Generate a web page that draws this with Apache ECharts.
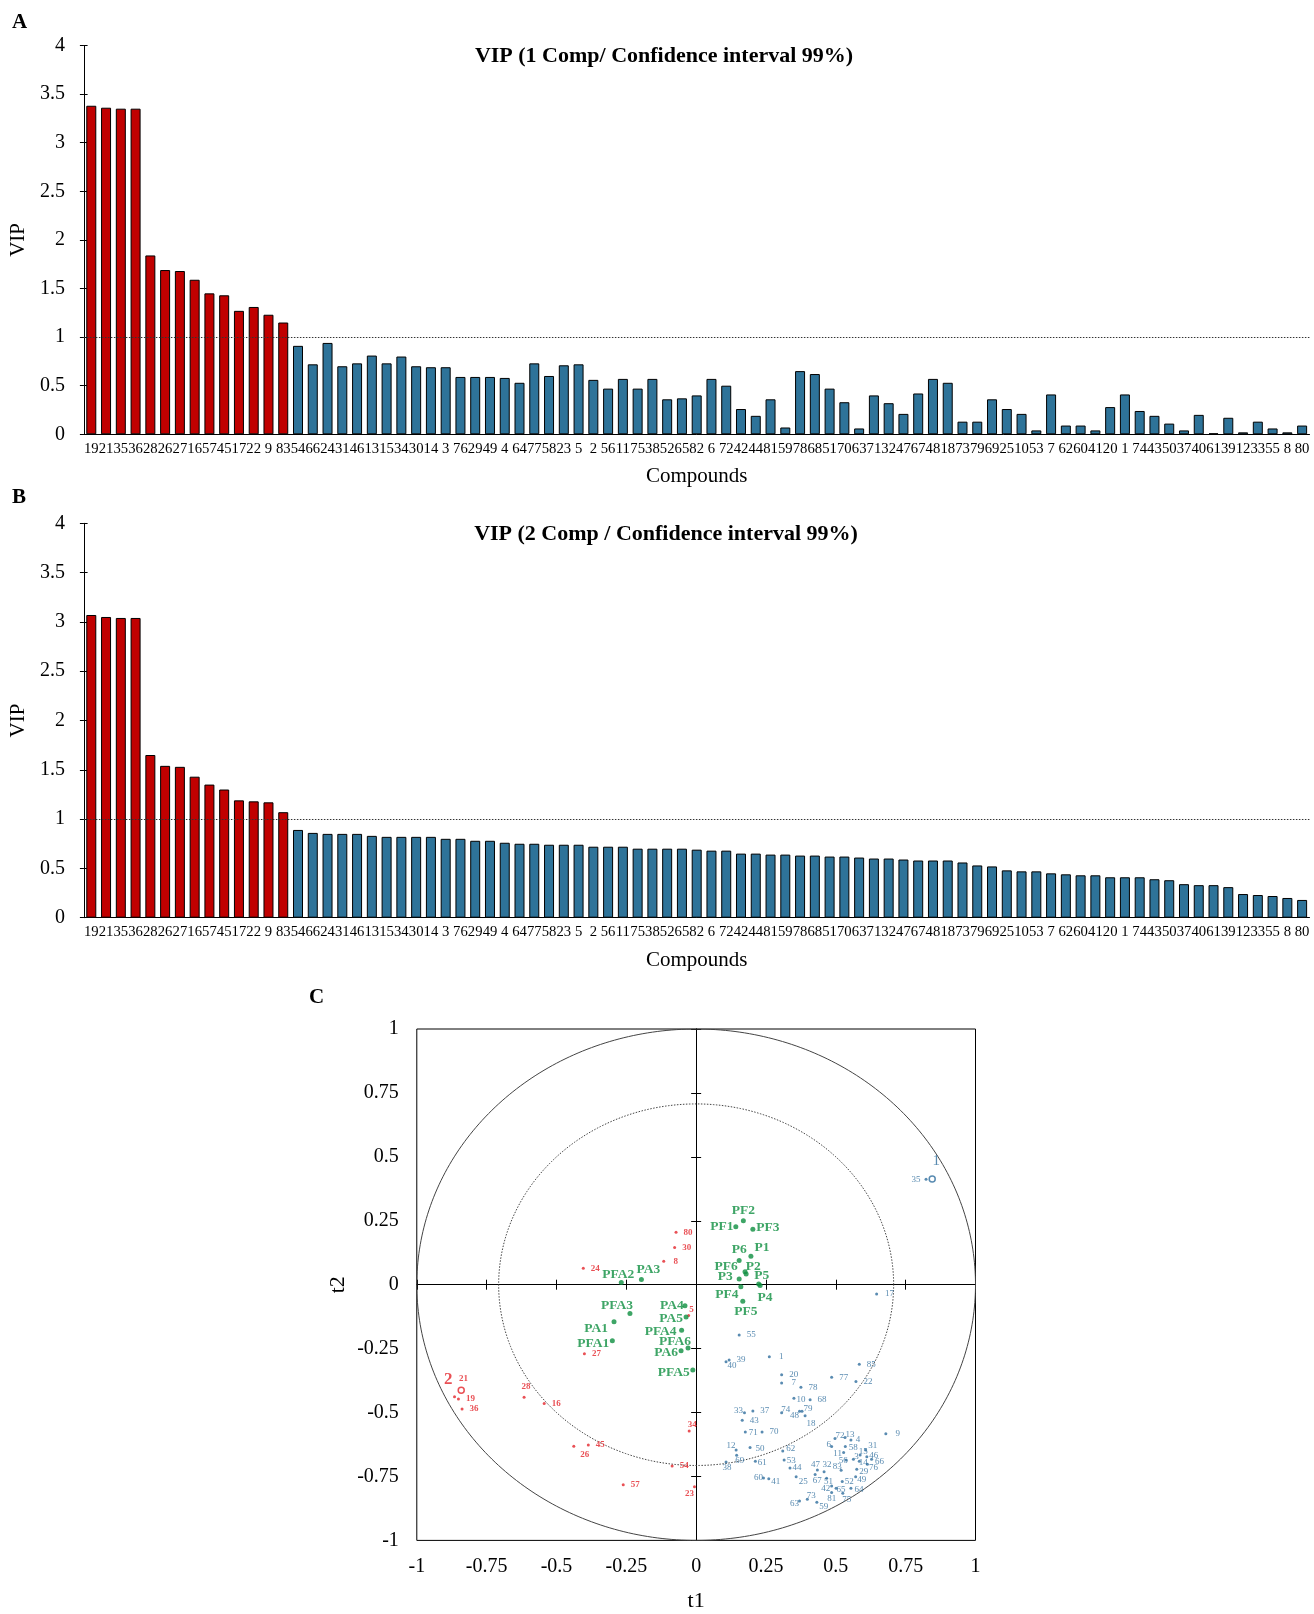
<!DOCTYPE html>
<html>
<head>
<meta charset="utf-8">
<script src="https://cdn.jsdelivr.net/npm/echarts@6/dist/echarts.min.js"></script>
<style>
html,body{margin:0;padding:0;background:#fff}
#chart{width:1314px;height:1614px}
</style>
</head>
<body>
<div id="chart"></div>
<script>
// Compound order on the VIP bar charts (same order for both components)
const compounds = ['19','21','35','36','28','26','27','16','57','45','17','22','9','83','54','66','24','31','46','13',
  '15','34','30','14','3','76','29','49','4','64','77','58','23','5','2','56','11','75','38','52',
  '65','82','6','72','42','44','81','59','78','68','51','70','63','71','32','47','67','48','18','73',
  '79','69','25','10','53','7','62','60','41','20','1','74','43','50','37','40','61','39','12','33',
  '55','8','80'];

// VIP scores, 1 component
const vipComp1 = [3.38,3.36,3.35,3.35,1.84,1.69,1.68,1.59,1.45,1.43,1.27,1.31,1.23,1.15,0.91,0.72,0.94,0.70,0.73,0.81,
  0.73,0.80,0.70,0.69,0.69,0.59,0.59,0.59,0.58,0.53,0.73,0.60,0.71,0.72,0.56,0.47,0.57,0.47,0.57,0.36,
  0.37,0.40,0.57,0.50,0.26,0.19,0.36,0.07,0.65,0.62,0.47,0.33,0.06,0.40,0.32,0.21,0.42,0.57,0.53,0.13,
  0.13,0.36,0.26,0.21,0.04,0.41,0.09,0.09,0.04,0.28,0.41,0.24,0.19,0.11,0.04,0.20,0.01,0.17,0.02,0.13,
  0.06,0.02,0.09];

// VIP scores, 2 components
const vipComp2 = [3.07,3.05,3.04,3.04,1.65,1.54,1.53,1.43,1.35,1.30,1.19,1.18,1.17,1.07,0.89,0.86,0.85,0.85,0.85,0.83,
  0.82,0.82,0.82,0.82,0.80,0.80,0.78,0.78,0.76,0.75,0.75,0.74,0.74,0.74,0.72,0.72,0.72,0.70,0.70,0.70,
  0.70,0.69,0.68,0.68,0.65,0.65,0.64,0.64,0.63,0.63,0.62,0.62,0.61,0.60,0.60,0.59,0.58,0.58,0.58,0.56,
  0.53,0.52,0.48,0.47,0.47,0.45,0.44,0.43,0.43,0.41,0.41,0.41,0.39,0.38,0.34,0.33,0.33,0.31,0.24,0.23,
  0.22,0.20,0.18];

const vipThreshold = 1;

// Correlation circle (t1, t2): X variables correlated with Y2 (red)
const redVars = [['80',-0.072,0.205],['30',-0.077,0.145],['8',-0.116,0.092],['24',-0.404,0.064],['5',-0.027,-0.120],
  ['27',-0.400,-0.270],['21',-0.865,-0.438],['19',-0.851,-0.447],['36',-0.838,-0.486],['28',-0.616,-0.440],
  ['16',-0.544,-0.465],['26',-0.438,-0.632],['45',-0.386,-0.627],['34',-0.025,-0.572],['54',-0.086,-0.709],
  ['57',-0.261,-0.782],['23',-0.006,-0.790]];

// X variables correlated with Y1 (blue)
const blueVars = [['35',0.823,0.412],['17',0.646,-0.036],['55',0.154,-0.197],['1',0.262,-0.282],['39',0.118,-0.294],
  ['40',0.107,-0.301],['20',0.306,-0.352],['7',0.306,-0.384],['78',0.375,-0.401],['77',0.485,-0.362],
  ['85',0.584,-0.311],['22',0.572,-0.379],['10',0.350,-0.444],['68',0.408,-0.450],['33',0.173,-0.501],
  ['37',0.203,-0.494],['74',0.306,-0.501],['48',0.370,-0.495],['79',0.379,-0.495],['18',0.390,-0.513],
  ['43',0.165,-0.530],['71',0.176,-0.576],['70',0.236,-0.576],['12',0.143,-0.646],['50',0.193,-0.637],
  ['62',0.310,-0.650],['69',0.145,-0.667],['38',0.107,-0.693],['61',0.212,-0.690],['53',0.315,-0.686],
  ['44',0.336,-0.717],['60',0.241,-0.756],['41',0.260,-0.759],['25',0.358,-0.751],['63',0.370,-0.846],
  ['73',0.398,-0.839],['59',0.432,-0.851],['47',0.434,-0.725],['32',0.458,-0.732],['83',0.519,-0.726],
  ['67',0.426,-0.742],['51',0.467,-0.757],['42',0.485,-0.787],['65',0.501,-0.796],['81',0.485,-0.813],
  ['75',0.525,-0.816],['52',0.523,-0.770],['64',0.554,-0.796],['49',0.571,-0.751],['29',0.575,-0.722],
  ['76',0.613,-0.702],['14',0.584,-0.690],['66',0.628,-0.683],['46',0.611,-0.673],['56',0.537,-0.686],
  ['3',0.563,-0.683],['15',0.587,-0.666],['31',0.607,-0.646],['58',0.534,-0.633],['11',0.528,-0.656],
  ['6',0.485,-0.633],['72',0.497,-0.601],['13',0.533,-0.598],['4',0.554,-0.607],['9',0.679,-0.583]];

// Observations (samples)
const samples = [['PF1',0.142,0.227],['PF2',0.169,0.250],['PF3',0.203,0.217],['P6',0.154,0.095],['P1',0.196,0.111],
  ['PF6',0.175,0.051],['P2',0.179,0.042],['P3',0.154,0.022],['P5',0.224,0.003],['P4',0.229,-0.003],
  ['PF4',0.160,-0.008],['PF5',0.167,-0.065],['PFA2',-0.268,0.009],['PA3',-0.196,0.020],['PFA3',-0.237,-0.113],
  ['PA1',-0.294,-0.145],['PFA1',-0.300,-0.219],['PA4',-0.040,-0.082],['PA5',-0.036,-0.126],['PFA4',-0.052,-0.178],
  ['PFA6',-0.029,-0.248],['PA6',-0.054,-0.258],['PFA5',-0.012,-0.334]];

// Response variables
const yVarBlue = [['1',0.845,0.413]];
const yVarRed = [['2',-0.841,-0.413]];

const circleRadii = [1, 0.707];

// Label placement (pixel offset of label centre from its marker)
const labelOffsets = {
  PF2:[0,-10],PF1:[-14,0],PF3:[15,-2],P6:[0,-11],P1:[11,-9],PF6:[-19,-5],P2:[7,-7],P3:[-14,-3],P5:[3,-8],P4:[5,12],
  PF4:[-14,8],PF5:[3,10],PFA2:[-3,-8],PA3:[7,-10],PFA3:[-13,-8],PA1:[-18,7],PFA1:[-19,3],PA4:[-13,0],PA5:[-15,2],
  PFA4:[-21,1],PFA6:[-13,-7],PA6:[-15,2],PFA5:[-19,2]
};
const redOffsets = {'5':[3,-6],'21':[9,-18],'28':[2,-11],'26':[11,8],'34':[3,-6],'23':[-5,7]};
const blueOffsets = {'35':[-10,0],'40':[6,4],'10':[7,1],'33':[-6,-2],'74':[4,-3],'48':[-5,4],'79':[6,-3],'18':[6,8],
  '71':[8,1],'12':[-5,-4],'50':[10,1],'62':[8,-2],'69':[3,5],'38':[1,6],'61':[7,2],'53':[7,1],'44':[7,0],'60':[-5,0],
  '41':[7,3],'25':[7,5],'63':[-5,3],'73':[4,-4],'59':[7,4],'47':[-2,-5],'32':[3,-7],'83':[-4,-4],'67':[2,6],'51':[2,3],
  '42':[-6,3],'65':[5,1],'81':[0,6],'75':[4,6],'52':[7,0],'64':[8,1],'49':[6,3],'29':[7,2],'76':[6,3],'14':[4,2],
  '66':[8,2],'46':[7,-1],'56':[-3,1],'3':[3,-3],'15':[3,-3],'31':[7,-4],'58':[8,1],'11':[-6,1],'6':[-3,-2],'72':[5,-3],
  '13':[5,-3],'4':[7,0],'9':[12,0],'17':[13,0]};

const FONT = 'Liberation Serif';
const BAR_RED = '#C00000', BAR_BLUE = '#2E7399';
const PT_RED = '#E3242B', PT_BLUE = '#2F6E9E', PT_GREEN = '#0E8F40';

const gridA = {left:83.6, top:45.5, width:1225.9, height:388.8};
const gridB = {left:83.6, top:523.3, width:1225.9, height:394.4};
const gridC = {left:416.8, top:1029, width:558.7, height:511.4};

function catAxisMain(gi) {
  return {gridIndex:gi, type:'category', data:compounds,
    axisLine:{lineStyle:{color:'#000', width:1}},
    axisTick:{interval:0, length:4, lineStyle:{color:'#000'}},
    axisLabel:{interval:0, color:'#000', fontFamily:FONT, fontSize:14.7, margin:7},
    name:'Compounds', nameLocation:'middle', nameGap:32,
    nameTextStyle:{color:'#000', fontFamily:FONT, fontSize:21}};
}
function catAxisOverlay(gi) {
  return {gridIndex:gi, type:'category', data:compounds,
    axisLine:{show:false}, axisTick:{interval:0, inside:true, length:4, lineStyle:{color:'#000'}},
    axisLabel:{show:false}};
}
function vipAxisMain(gi) {
  return {gridIndex:gi, type:'value', min:0, max:4, interval:0.5,
    axisLine:{show:true, lineStyle:{color:'#000'}},
    axisTick:{show:true, length:4, lineStyle:{color:'#000'}},
    axisLabel:{color:'#000', fontFamily:FONT, fontSize:20, margin:19},
    splitLine:{show:false},
    name:'VIP', nameLocation:'middle', nameGap:52, nameRotate:90,
    nameTextStyle:{color:'#000', fontFamily:FONT, fontSize:21}};
}
function vipAxisOverlay(gi) {
  return {gridIndex:gi, type:'value', min:0, max:4, interval:0.5,
    axisLine:{show:false}, axisTick:{show:true, inside:true, length:4, lineStyle:{color:'#000'}},
    axisLabel:{show:false}, splitLine:{show:false}};
}
function vipSeries(values, axisIdx) {
  return {type:'bar', xAxisIndex:axisIdx, yAxisIndex:axisIdx, data:values, barWidth:10,
    itemStyle:{color:p => p.value > vipThreshold ? BAR_RED : BAR_BLUE, borderColor:'#000', borderWidth:1},
    markLine:{silent:true, symbol:'none', label:{show:false},
      lineStyle:{type:[1.5,1.5], color:'#333', width:1}, data:[{yAxis:vipThreshold}]}};
}

function circlePoints(r) {
  const pts = [];
  for (let a = 0; a <= 360; a += 1) {
    const t = a * Math.PI / 180;
    pts.push([r * Math.cos(t), r * Math.sin(t)]);
  }
  return pts;
}

function pointItems(list, offsets, def) {
  return list.map(([name, x, y]) => ({
    value:[x, y, name],
    label:{offset: offsets[name] || def}
  }));
}

function pointSeries(list, offsets, def, color, size, labelStyle, hollow) {
  return {type:'scatter', xAxisIndex:4, yAxisIndex:4, symbol:'circle', symbolSize:size,
    data:pointItems(list, offsets, def),
    itemStyle: hollow ? {color:'#fff', borderColor:color, borderWidth:1.5} : {color:color},
    label:Object.assign({show:true, position:'inside', formatter:p => p.value[2], color:color, fontFamily:FONT}, labelStyle),
    z: hollow ? 4 : 3};
}

const valueAxisC = (extra) => Object.assign({gridIndex:4, type:'value', min:-1, max:1, interval:0.25,
  axisLine:{show:false}, axisTick:{show:false}, splitLine:{show:false},
  axisLabel:{color:'#000', fontFamily:FONT, fontSize:20}}, extra);
const crossAxisC = (pos) => ({gridIndex:5, type:'value', min:-1, max:1, interval:0.25, position:pos,
  axisLine:{show:true, onZero:true, lineStyle:{color:'#000', width:1}},
  axisTick:{show:true, length:5, lineStyle:{color:'#000'}},
  axisLabel:{show:false}, splitLine:{show:false}});

const option = {
  animation:false,
  backgroundColor:'#fff',
  grid:[
    gridA, Object.assign({}, gridA),
    gridB, Object.assign({}, gridB),
    Object.assign({show:true, borderColor:'#000', borderWidth:1, backgroundColor:'transparent'}, gridC),
    Object.assign({}, gridC)
  ],
  xAxis:[
    catAxisMain(0), catAxisOverlay(1), catAxisMain(2), catAxisOverlay(3),
    valueAxisC({axisLabel:{color:'#000', fontFamily:FONT, fontSize:20, margin:16},
      name:'t1', nameLocation:'middle', nameGap:50, nameTextStyle:{color:'#000', fontFamily:FONT, fontSize:22}}),
    crossAxisC('bottom'), crossAxisC('top')
  ],
  yAxis:[
    vipAxisMain(0), vipAxisOverlay(1), vipAxisMain(2), vipAxisOverlay(3),
    valueAxisC({axisLabel:{color:'#000', fontFamily:FONT, fontSize:20, margin:18},
      name:'t2', nameLocation:'middle', nameGap:68, nameRotate:90,
      nameTextStyle:{color:'#000', fontFamily:FONT, fontSize:22}}),
    crossAxisC('left'), crossAxisC('right')
  ],
  series:[
    vipSeries(vipComp1, 0),
    vipSeries(vipComp2, 2),
    {type:'line', xAxisIndex:4, yAxisIndex:4, data:circlePoints(circleRadii[0]), showSymbol:false, symbol:'none',
      lineStyle:{color:'#444', width:1}, silent:true, z:1},
    {type:'line', xAxisIndex:4, yAxisIndex:4, data:circlePoints(circleRadii[1]), showSymbol:false, symbol:'none',
      lineStyle:{color:'#444', width:1, type:[1.5,1.5]}, silent:true, z:1},
    pointSeries(redVars, redOffsets, [12,0], PT_RED, 3, {fontSize:9, fontWeight:'bold'}),
    pointSeries(blueVars, blueOffsets, [12,0], PT_BLUE, 3, {fontSize:9}),
    pointSeries(samples, labelOffsets, [12,0], PT_GREEN, 5, {fontSize:13.5, fontWeight:'bold'}),
    pointSeries(yVarBlue, {'1':[4,-18]}, [0,-16], PT_BLUE, 6, {fontSize:15}, true),
    pointSeries(yVarRed, {'2':[-13,-11]}, [0,-16], PT_RED, 6, {fontSize:17, fontWeight:'bold'}, true)
  ],
  graphic:[
    {type:'text', left:12, top:12, style:{text:'A', font:'bold 21px "Liberation Serif"', fill:'#000'}},
    {type:'text', left:12, top:487, style:{text:'B', font:'bold 21px "Liberation Serif"', fill:'#000'}},
    {type:'text', left:309, top:987, style:{text:'C', font:'bold 21px "Liberation Serif"', fill:'#000'}},
    {type:'text', x:664, y:56, style:{text:'VIP (1 Comp/ Confidence interval 99%)', font:'bold 22px "Liberation Serif"',
      fill:'#000', align:'center', verticalAlign:'middle'}},
    {type:'text', x:666, y:534, style:{text:'VIP (2 Comp / Confidence interval 99%)', font:'bold 22px "Liberation Serif"',
      fill:'#000', align:'center', verticalAlign:'middle'}}
  ]
};

const chart = echarts.init(document.getElementById('chart'), null, {renderer:'canvas'});
chart.setOption(option);
</script>
</body>
</html>
